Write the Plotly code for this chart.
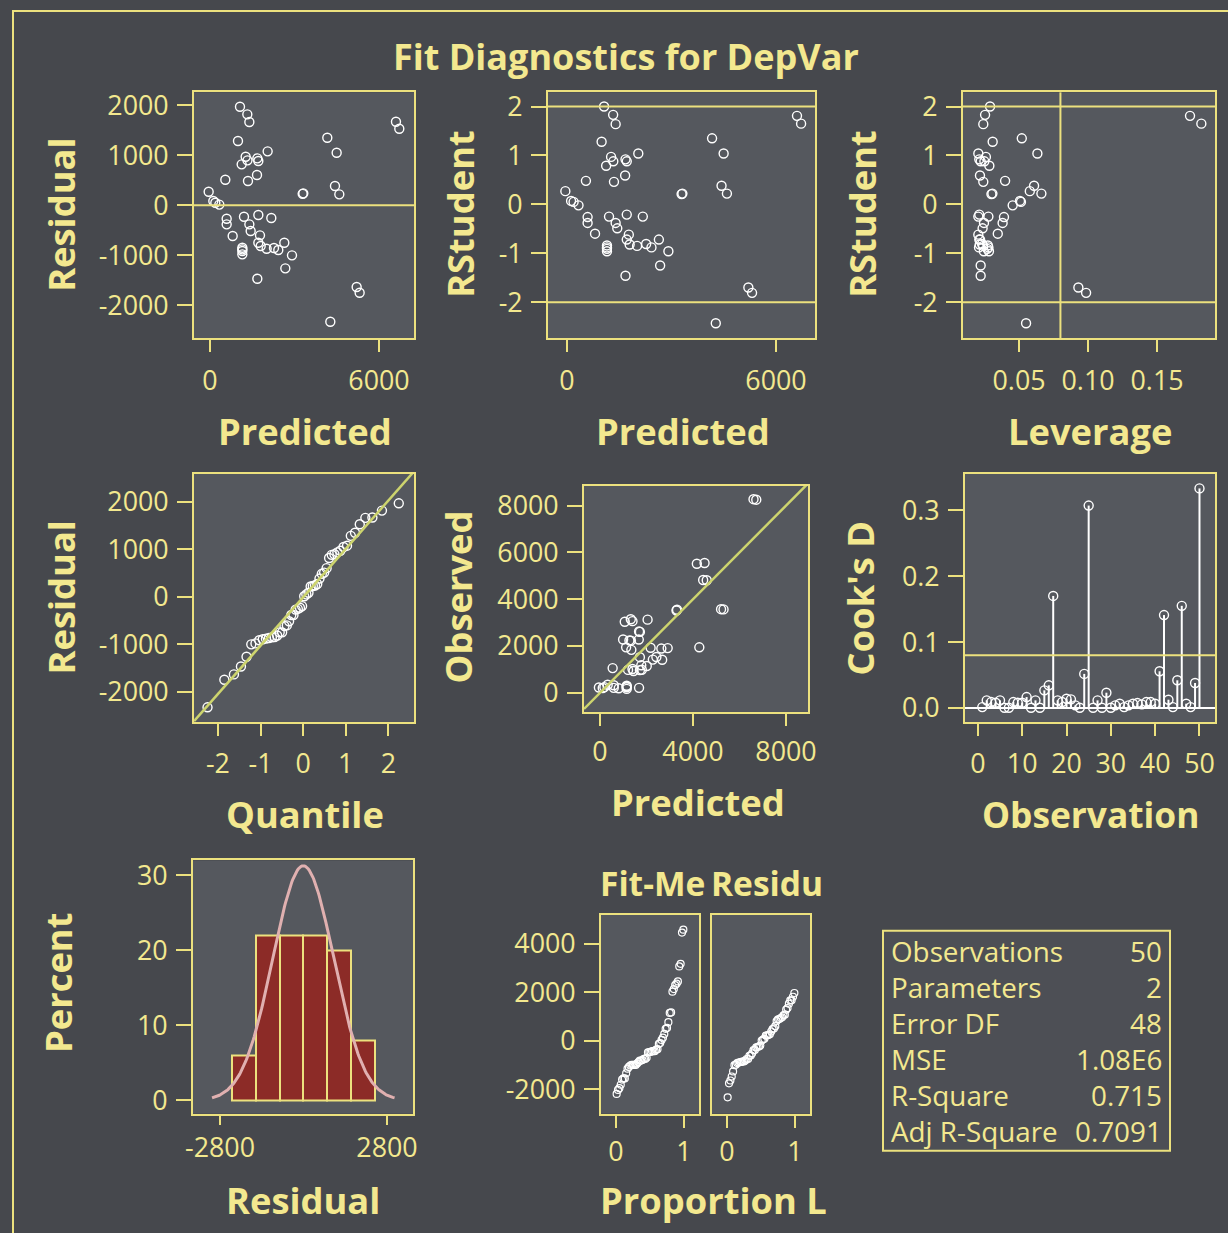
import numpy as np
import plotly.graph_objects as go

# ---------------- data ----------------
predicted = [1065, 1325, 1397, 994, 2047, 1266, 1680, 1716, 1124, 1330,
             1669, 544, 1349, -47, 118, 189, 331, 3313, 3290, 4165,
             4497, 4437, 4591, 6603, 6721, 592, 592, 1207, 1716, 2177,
             1397, 1444, 805, 1775, 1716, 1799, 1148, 1148, 1148, 1148,
             2012, 2272, 2425, 2638, 2911, 2674, 1680, 5207, 5313, 4272]
residual = [1973, 1820, 1667, 1287, 1080, 973, 940, 887, 820, 900,
            607, 513, 487, 273, 87, 53, 15, 240, 230, 1353,
            1053, 387, 220, 1673, 1533, -267, -380, -227, -193, -253,
            -380, -513, -613, -600, -747, -813, -847, -880, -913, -980,
            -867, -853, -893, -747, -1000, -1260, -1467, -1633, -1747, -2327]
rstudent = [2.00, 1.83, 1.64, 1.28, 1.04, 0.97, 0.92, 0.88, 0.79, 0.88,
            0.59, 0.48, 0.46, 0.27, 0.07, 0.05, -0.02, 0.22, 0.21, 1.35,
            1.04, 0.38, 0.22, 1.81, 1.65, -0.26, -0.38, -0.25, -0.21, -0.25,
            -0.38, -0.49, -0.60, -0.62, -0.72, -0.82, -0.84, -0.88, -0.91, -0.96,
            -0.85, -0.81, -0.88, -0.72, -0.96, -1.25, -1.46, -1.70, -1.81, -2.43]
leverage = [0.0290, 0.0254, 0.0241, 0.0309, 0.0205, 0.0260, 0.0212, 0.0222, 0.0285, 0.0249,
            0.0217, 0.0399, 0.0241, 0.0578, 0.0507, 0.0514, 0.0454, 0.0307, 0.0300, 0.0520,
            0.0633, 0.0609, 0.0662, 0.1739, 0.1821, 0.0391, 0.0381, 0.0278, 0.0212, 0.0205,
            0.0246, 0.0236, 0.0346, 0.0205, 0.0212, 0.0215, 0.0274, 0.0278, 0.0270, 0.0282,
            0.0240, 0.0232, 0.0210, 0.0218, 0.0245, 0.0222, 0.0222, 0.0930, 0.0986, 0.0551]
cooks_d = [0.0015, 0.0117, 0.0091, 0.0081, 0.0117, 0.0005, 0.0005, 0.0091, 0.0081, 0.0081,
           0.0167, 0.0005, 0.0117, 0.0005, 0.0269, 0.0345, 0.1700, 0.0117, 0.0091, 0.0142,
           0.0132, 0.0041, 0.0005, 0.0518, 0.3070, 0.0005, 0.0117, 0.0005, 0.0233, 0.0005,
           0.0041, 0.0066, 0.0015, 0.0041, 0.0066, 0.0076, 0.0056, 0.0091, 0.0091, 0.0066,
           0.0558, 0.1410, 0.0127, 0.0015, 0.0421, 0.1550, 0.0066, 0.0015, 0.0380, 0.3330]
observation = list(range(1, 51))
normal_quantile = [-2.243, -1.848, -1.624, -1.459, -1.328, -1.217, -1.118, -1.029, -0.947, -0.872,
                   -0.802, -0.734, -0.670, -0.609, -0.550, -0.493, -0.438, -0.383, -0.330, -0.278,
                   -0.227, -0.176, -0.125, -0.075, -0.025, 0.025, 0.075, 0.125, 0.176, 0.227,
                   0.278, 0.330, 0.383, 0.438, 0.493, 0.550, 0.609, 0.670, 0.734, 0.802,
                   0.872, 0.947, 1.029, 1.118, 1.217, 1.328, 1.459, 1.624, 1.848, 2.243]
proportion_less = [0.01, 0.03, 0.05, 0.07, 0.09, 0.11, 0.13, 0.15, 0.17, 0.19,
                   0.21, 0.23, 0.25, 0.27, 0.29, 0.31, 0.33, 0.35, 0.37, 0.39,
                   0.41, 0.43, 0.45, 0.47, 0.49, 0.51, 0.53, 0.55, 0.57, 0.59,
                   0.61, 0.63, 0.65, 0.67, 0.69, 0.71, 0.73, 0.75, 0.77, 0.79,
                   0.81, 0.83, 0.85, 0.87, 0.89, 0.91, 0.93, 0.95, 0.97, 0.99]
stat_labels = ["Observations", "Parameters", "Error DF", "MSE", "R-Square", "Adj R-Square"]
stat_values = ["50", "2", "48", "1.08E6", "0.715", "0.7091"]

# tick values and tick labels per panel
ticks_resid = ([-2000, -1000, 0, 1000, 2000], ["-2000", "-1000", "0", "1000", "2000"])
ticks_rstud = ([-2, -1, 0, 1, 2], ["-2", "-1", "0", "1", "2"])
ticks_pred6k = ([0, 6000], ["0", "6000"])
ticks_lev = ([0.05, 0.10, 0.15], ["0.05", "0.10", "0.15"])
ticks_quant = ([-2, -1, 0, 1, 2], ["-2", "-1", "0", "1", "2"])
ticks_obs8k = ([0, 2000, 4000, 6000, 8000], ["0", "2000", "4000", "6000", "8000"])
ticks_pred8k = ([0, 4000, 8000], ["0", "4000", "8000"])
ticks_obsnum = ([0, 10, 20, 30, 40, 50], ["0", "10", "20", "30", "40", "50"])
ticks_cook = ([0.0, 0.1, 0.2, 0.3], ["0.0", "0.1", "0.2", "0.3"])
ticks_hx = ([-2800, 2800], ["-2800", "2800"])
ticks_pct = ([0, 10, 20, 30], ["0", "10", "20", "30"])
ticks_prop = ([0, 1], ["0", "1"])
ticks_spread = ([-2000, 0, 2000, 4000], ["-2000", "0", "2000", "4000"])

# derived quantities used by the diagnostic panels
pred_arr = np.array(predicted, dtype=float)
res_arr = np.array(residual, dtype=float)
observed = pred_arr + res_arr
sorted_res = np.sort(res_arr)
fit_minus_mean = np.sort(pred_arr - pred_arr.mean())

# ---------------- styling ----------------
W, H = 1228, 1233
# the photographed page shows up slightly inset; positions below are target
# picture pixels, mapped back onto the page
INSET = 8
SX = (W - 2 * INSET) / W
SY = (H - 2 * INSET) / H
BG = "#46484d"
PANEL = "#55585e"
YEL = "#ece17e"
TXT = "#f3e88f"
DIAG = "#cdd46e"
FONT = "Open Sans"
TICKSIZE = 26.8
TITLESIZE = 36.3


def X(px):
    return ((px - INSET) / SX) / W


def Y(py):
    return 1 - ((py - INSET) / SY) / H


fig = go.Figure()

# panel: x pixel span, y pixel span, x range, y range, x ticks, y ticks,
#        x tick length, x label standoff
panels = {
    1: ((194, 414), (93, 338), (-568, 7243), (-2660, 2260), ticks_pred6k, ticks_resid, 12, 5),
    2: ((548, 815), (93, 338), (-545, 7120), (-2.74, 2.29), ticks_pred6k, ticks_rstud, 12, 5),
    3: ((963, 1215), (93, 338), (0.0094, 0.192), (-2.74, 2.29), ticks_lev, ticks_rstud, 12, 5),
    4: ((194, 414), (473, 720), (-2.56, 2.6), (-2635, 2593), ticks_quant, ticks_resid, 12, 5),
    5: ((584, 808), (485, 710), (-688, 8946), (-815, 8841), ticks_pred8k, ticks_obs8k, 12, 3),
    6: ((965, 1215), (473, 720), (-2.9, 53.5), (-0.021, 0.355), ticks_obsnum, ticks_cook, 12, 5),
    7: ((193, 413), (858, 1110), (-3705, 3672), (-1.74, 32.0), ticks_hx, ticks_pct, 9, 0),
    8: ((601, 699), (912, 1110), (-0.22, 1.22), (-2993, 5200), ticks_prop, ticks_spread, 12, 1),
    9: ((712, 810), (912, 1110), (-0.22, 1.22), (-2993, 5200), ticks_prop, ([], []), 12, 1),
}

layout = dict(
    width=W, height=H,
    margin=dict(l=0, r=0, t=0, b=0),
    paper_bgcolor=BG, plot_bgcolor=PANEL,
    showlegend=False,
    font=dict(family=FONT, color=TXT),
)

for k, (xd, yd, xr, yr, xt, yt, xlen, xstand) in panels.items():
    xs = "xaxis" if k == 1 else f"xaxis{k}"
    ys = "yaxis" if k == 1 else f"yaxis{k}"
    common = dict(showline=True, mirror=True, linecolor=YEL, linewidth=2,
                  ticks="outside", tickcolor=YEL, tickwidth=2, tickmode="array",
                  showgrid=False, zeroline=False, fixedrange=True,
                  tickfont=dict(family=FONT, size=TICKSIZE, color=TXT))
    layout[xs] = dict(common, domain=[X(xd[0]), X(xd[1])], range=list(xr),
                      anchor=f"y{k}" if k > 1 else "y",
                      tickvals=xt[0], ticktext=xt[1], ticklen=xlen, ticklabelstandoff=xstand)
    ydict = dict(common, domain=[Y(yd[1]), Y(yd[0])], range=list(yr),
                 anchor=f"x{k}" if k > 1 else "x",
                 tickvals=yt[0], ticktext=yt[1], ticklen=15, ticklabelstandoff=3)
    if k == 9:
        ydict["ticks"] = ""
        ydict["showticklabels"] = False
    layout[ys] = ydict


def ax(k):
    return ("x" if k == 1 else f"x{k}", "y" if k == 1 else f"y{k}")


MK = dict(symbol="circle-open", size=9, color="white", line=dict(width=1.4))
MKS = dict(symbol="circle-open", size=7, color="white", line=dict(width=1.2))

# 1: residual vs predicted
xa, ya = ax(1)
fig.add_trace(go.Scatter(x=predicted, y=residual, mode="markers", marker=MK, xaxis=xa, yaxis=ya))
# 2: rstudent vs predicted
xa, ya = ax(2)
fig.add_trace(go.Scatter(x=predicted, y=rstudent, mode="markers", marker=MK, xaxis=xa, yaxis=ya))
# 3: rstudent vs leverage
xa, ya = ax(3)
fig.add_trace(go.Scatter(x=leverage, y=rstudent, mode="markers", marker=MK, xaxis=xa, yaxis=ya))
# 4: QQ plot
xa, ya = ax(4)
fig.add_trace(go.Scatter(x=normal_quantile, y=sorted_res, mode="markers", marker=MK, xaxis=xa, yaxis=ya))
# 5: observed vs predicted
xa, ya = ax(5)
fig.add_trace(go.Scatter(x=predicted, y=observed, mode="markers", marker=MK, xaxis=xa, yaxis=ya))
# 6: Cook's D needles
xa, ya = ax(6)
fig.add_trace(go.Scatter(
    x=observation, y=cooks_d, mode="markers", marker=MK, xaxis=xa, yaxis=ya,
    error_y=dict(type="data", symmetric=False, array=[0] * len(cooks_d),
                 arrayminus=cooks_d, width=0, thickness=2, color="white")))
# 7: histogram + normal fit
xa, ya = ax(7)
fig.add_trace(go.Histogram(
    x=residual, histnorm="percent", xbins=dict(start=-2400, end=2400, size=800),
    marker=dict(color="#8c2b27", line=dict(color=YEL, width=2)),
    xaxis=xa, yaxis=ya))
mu = res_arr.mean()
sd = res_arr.std(ddof=1)
grid = np.linspace(mu - 3 * sd, mu + 3 * sd, 200)
dens = 100 * 800 * np.exp(-0.5 * ((grid - mu) / sd) ** 2) / (sd * np.sqrt(2 * np.pi))
fig.add_trace(go.Scatter(x=grid, y=dens, mode="lines", line=dict(color="#e0b0b0", width=3),
                         xaxis=xa, yaxis=ya))
# 8, 9: residual-fit spread
xa, ya = ax(8)
fig.add_trace(go.Scatter(x=proportion_less, y=fit_minus_mean, mode="markers", marker=MKS, xaxis=xa, yaxis=ya))
xa, ya = ax(9)
fig.add_trace(go.Scatter(x=proportion_less, y=sorted_res, mode="markers", marker=MKS, xaxis=xa, yaxis=ya))

# ---------------- reference lines ----------------
shapes = []


def hline(k, yv, color=YEL, w=2):
    xa, ya = ax(k)
    shapes.append(dict(type="line", xref=f"{xa} domain", yref=ya, x0=0, x1=1, y0=yv, y1=yv,
                       line=dict(color=color, width=w), layer="above"))


def vline(k, xv, color=YEL, w=2):
    xa, ya = ax(k)
    shapes.append(dict(type="line", xref=xa, yref=f"{ya} domain", x0=xv, x1=xv, y0=0, y1=1,
                       line=dict(color=color, width=w), layer="above"))


hline(1, 0)
hline(2, 2); hline(2, -2)
hline(3, 2); hline(3, -2)
vline(3, 0.08)
hline(6, 0.08)
hline(6, 0, color="white")

# QQ reference line: mean + sd * quantile
xa, ya = ax(4)
qx0, qx1 = panels[4][2]
shapes.append(dict(type="line", xref=xa, yref=ya, x0=qx0, x1=qx1,
                   y0=mu + sd * qx0, y1=mu + sd * qx1, line=dict(color=DIAG, width=2.5),
                   layer="above"))
# Observed = Predicted line
xa, ya = ax(5)
d0, d1 = panels[5][2]
shapes.append(dict(type="line", xref=xa, yref=ya, x0=d0, x1=d1, y0=d0, y1=d1,
                   line=dict(color=DIAG, width=2.5), layer="above"))

# outer frame (only top and left visible) and stats box
shapes.append(dict(type="rect", xref="paper", yref="paper", x0=X(13), x1=X(1300),
                   y0=Y(1300), y1=Y(12), line=dict(color=YEL, width=2), layer="below"))
shapes.append(dict(type="rect", xref="paper", yref="paper", x0=X(883), x1=X(1170),
                   y0=Y(1147), y1=Y(928), line=dict(color=YEL, width=2),
                   fillcolor="#4d4f55", layer="below"))
layout["shapes"] = shapes

# ---------------- text ----------------
ann = []


def label(text, px, py, size=TITLESIZE, angle=0, bold=True, xanchor="center"):
    ann.append(dict(text=text, x=X(px), y=Y(py), xref="paper", yref="paper", showarrow=False,
                    xanchor=xanchor, yanchor="middle", textangle=angle,
                    font=dict(family=FONT, size=size, color=TXT,
                              weight="bold" if bold else "normal")))


label("Fit Diagnostics for DepVar", 626, 57, size=36)
label("Residual", 61, 215, angle=-90)
label("RStudent", 460, 214, angle=-90)
label("RStudent", 862, 214, angle=-90)
label("Predicted", 305, 430)
label("Predicted", 683, 430)
label("Leverage", 1090, 430)
label("Residual", 61, 596, angle=-90)
label("Observed", 458, 596, angle=-90)
label("Cook's D", 860, 597, angle=-90)
label("Quantile", 305, 812)
label("Predicted", 698, 800)
label("Observation", 1090, 812, size=35.3)
label("Percent", 58, 980, angle=-90)
label("Residual", 303, 1196)
# panel headers and axis title are cut at the panel width in the reference
label("Proportion L", 598, 1196, xanchor="left")
label("Fit-Me", 598, 880, xanchor="left", size=33.5)
label("Residu", 709, 880, xanchor="left", size=33.5)

for i, (lab, val) in enumerate(zip(stat_labels, stat_values)):
    yy = 948 + i * 35.8
    label(lab, 889, yy, size=27.8, bold=False, xanchor="left")
    label(val, 1164, yy, size=27.8, bold=False, xanchor="right")

layout["annotations"] = ann
fig.update_layout(**layout)
fig.write_html(
    "out.html",
    config={"responsive": False, "displayModeBar": False},
    post_script=(
        "document.body.style.margin='0';"
        f"document.documentElement.style.background='{BG}';"
        f"document.body.style.background='{BG}';"
        "document.body.style.overflow='hidden';"
    ),
)
